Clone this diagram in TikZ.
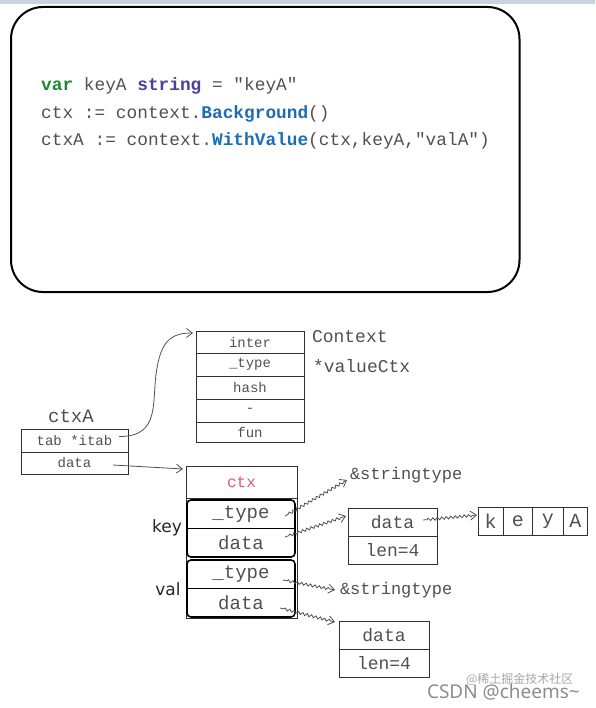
\documentclass[tikz,border=0pt]{standalone}
\usepackage{fontspec}
\setmainfont{Liberation Mono}[Ligatures=TeXOff]
\newfontfamily\handfont{DejaVu Sans}
\newfontfamily\wmfont{Noto Sans}
\newfontfamily\cjkfont{Noto Sans CJK SC}
\usetikzlibrary{decorations.pathmorphing,arrows.meta}
\newcommand\setfs[1]{\fontsize{#1}{#1}\selectfont}
\definecolor{txt}{HTML}{505050}
\definecolor{lc}{HTML}{303030}
\definecolor{ac}{HTML}{505050}
\definecolor{kwgreen}{HTML}{1F8A2C}
\definecolor{kwpurple}{HTML}{4B3F9C}
\definecolor{fnblue}{HTML}{1E6CB6}
\definecolor{ctxred}{HTML}{D6587A}
\definecolor{band}{HTML}{C9D3E0}
\begin{document}
\begin{tikzpicture}[x=1pt,y=-1pt,
  cell/.style={draw=lc, line width=0.8pt, inner sep=0pt, outer sep=0pt, anchor=north west, text=txt, font=\setfs{14}},
  lbl/.style={inner sep=0pt, outer sep=0pt, text=txt},
  codeline/.style={inner sep=0pt, anchor=base west, text=txt, font=\setfs{17.8}},
  arr/.style={draw=ac, line width=0.8pt, -{Straight Barb[length=6pt,width=9pt]}},
  wavy/.style={arr, decorate, decoration={snake, amplitude=1.3pt, segment length=4.5pt, pre length=4pt, post length=4pt}},
  frame/.style={draw=black, line width=1.6pt, rounded corners=4pt}]
\useasboundingbox (0,0) rectangle (595,708);
\fill[band] (0,0) rectangle (595,4.5);
% code box
\draw[line width=2pt, rounded corners=32pt] (11,7) rectangle (519.5,292);
\node[codeline] (c1) at (41,91) {{\color{kwgreen}\bfseries var} keyA {\color{kwpurple}\bfseries string} = "keyA"};
\node[codeline] (c2) at (41,118.5) {ctx := context.{\color{fnblue}\bfseries Background}()};
\node[codeline] (c3) at (41,146) {ctxA := context.{\color{fnblue}\bfseries WithValue}(ctx,keyA,"valA")};
% Context table
\node[cell, minimum width=108, minimum height=22] (inter) at (196,331) {inter};
\node[cell, minimum width=108, minimum height=23] (ctype) at (196,353) {\_type};
\node[cell, minimum width=108, minimum height=23] (hash) at (196,376) {hash};
\node[cell, minimum width=108, minimum height=23] (dash) at (196,399) {-};
\node[cell, minimum width=108, minimum height=20] (fun) at (196,422) {fun};
\node[lbl, anchor=west, font=\setfs{18}] (ctxlbl) at (312,337) {Context};
\node[lbl, anchor=west, font=\setfs{18}] (vclbl) at (313,366) {*valueCtx};
% ctxA table
\node[lbl, font=\setfs{19}] (ctxA) at (71,416.5) {ctxA};
\node[cell, minimum width=107, minimum height=23] (tab) at (21,429) {tab *itab};
\node[cell, minimum width=107, minimum height=22] (cdata) at (21,452) {data};
% valueCtx
\node[cell, minimum width=111, minimum height=32, text=ctxred, font=\setfs{16}] (ctx) at (186,466) {ctx};
\draw[draw=lc, line width=0.8pt] (ctx.south west) -- (186,618) -- (297,618) -- (ctx.south east);
\node[cell, draw=none, minimum width=108, minimum height=28, font=\setfs{19}] (ktype) at (187,500) {\_type};
\node[cell, draw=none, minimum width=108, minimum height=29, font=\setfs{19}] (kdata) at (187,528) {data};
\draw[frame] (ktype.north west) rectangle (kdata.south east);
\draw[line width=0.9pt] (ktype.south west) -- (ktype.south east);
\node[cell, draw=none, minimum width=108, minimum height=28, font=\setfs{19}] (vtype) at (187,560) {\_type};
\node[cell, draw=none, minimum width=108, minimum height=29, font=\setfs{19}] (vdata) at (187,588) {data};
\draw[frame] (vtype.north west) rectangle (vdata.south east);
\draw[line width=0.9pt] (vtype.south west) -- (vtype.south east);
\node[lbl, text=black!85, font=\handfont\setfs{17}] (keylbl) at (167,528) {key};
\node[lbl, text=black!85, font=\handfont\setfs{17}] (vallbl) at (168,589) {val};
% string type labels
\node[lbl, anchor=west, font=\setfs{17}] (str1) at (350,475) {\&stringtype};
\node[lbl, anchor=west, font=\setfs{17}] (str2) at (340,590) {\&stringtype};
% data/len box 1
\node[cell, minimum width=89, minimum height=28, font=\setfs{18}] (d1) at (348,508) {data};
\node[cell, minimum width=89, minimum height=28, font=\setfs{18}] (l1) at (348,536) {len=4};
% keyA chars
\node[cell, minimum width=25, minimum height=28, font=\setfs{20}] (kk) at (478,507) {k};
\node[cell, minimum width=29.5, minimum height=28, font=\setfs{20}] (ke) at (503,507) {e};
\node[cell, minimum width=30.5, minimum height=28, font=\setfs{20}] (ky) at (532.5,507) {y};
\node[cell, minimum width=24.5, minimum height=28, font=\setfs{20}] (kA) at (563,507) {A};
% data/len box 2
\node[cell, minimum width=90, minimum height=28, font=\setfs{18}] (d2) at (339,621) {data};
\node[cell, minimum width=90, minimum height=28, font=\setfs{18}] (l2) at (339,649) {len=4};
% connectors
\coordinate (tabs) at (119,436.5);
\draw[arr] (tabs) .. controls (162,437) and (151,400) .. (157,368) .. controls (162,338) and (174,333) .. ([xshift=-3pt,yshift=-2pt]inter.north west);
\coordinate (datas) at (113,465);
\draw[arr] (datas) -- ([xshift=-3pt,yshift=-3pt]ctx.north west);
\coordinate (kts) at (285,516);
\coordinate (kds) at (285,537);
\coordinate (d1s) at (423,520);
\coordinate (vts) at (283,580);
\coordinate (vds) at (280,608);
\draw[wavy] (kts) -- ([xshift=-3pt,yshift=-5pt]str1.west);
\draw[wavy] (kds) -- ([xshift=-2pt,yshift=6pt]d1.west);
\draw[wavy] (d1s) -- ([xshift=-1pt,yshift=6pt]kk.west);
\draw[wavy] (vts) -- ([xshift=-5pt]str2.west);
\draw[wavy] (vds) -- ([xshift=-4pt,yshift=-1pt]d2.north west);
% watermark
\node[lbl, anchor=west, text=black!35, font=\cjkfont\setfs{12}] (wm2) at (466,679) {@稀土掘金技术社区};
\node[lbl, anchor=west, text=black!45, font=\wmfont\setfs{19}] (wm1) at (427,692) {CSDN @cheems\textasciitilde};
\end{tikzpicture}
\end{document}
